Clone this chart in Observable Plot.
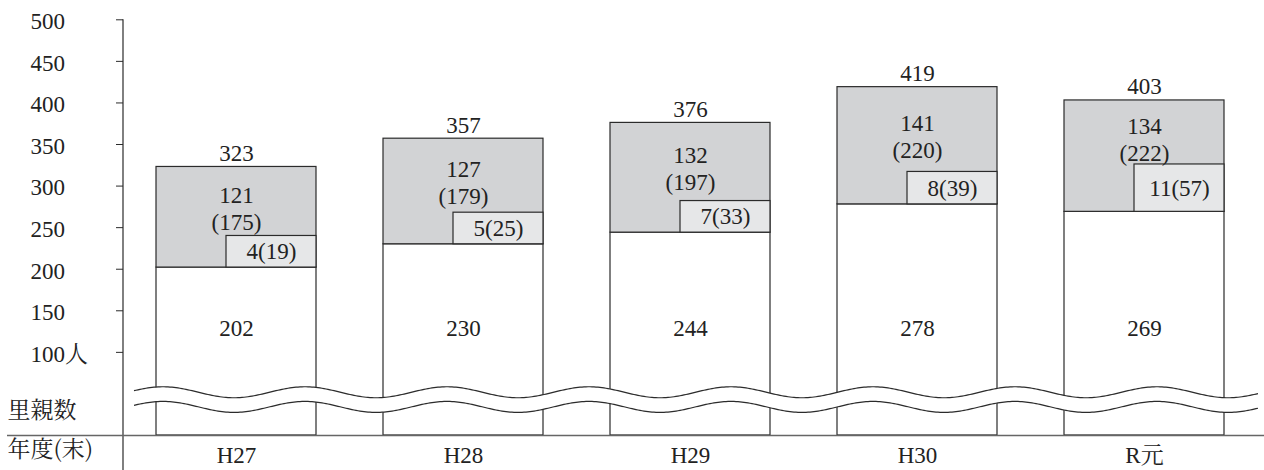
<!DOCTYPE html>
<html><head><meta charset="utf-8">
<script src="https://cdn.jsdelivr.net/npm/d3@7"></script>
<script src="https://cdn.jsdelivr.net/npm/@observablehq/plot@0.6"></script>
<style>body{margin:0;background:#fff;} #chart svg{display:block;}</style>
</head><body><div id="chart"></div>
<script>
// ---- data ----
const years = ["H27", "H28", "H29", "H30", "R元"];
const registered = [202, 230, 244, 278, 269];          // white part
const entrusted = [121, 127, 132, 141, 134];           // grey part
const entrustedChildren = [175, 179, 197, 220, 222];   // (children)
const subgroup = [4, 5, 7, 8, 11];                     // small inset box
const subgroupChildren = [19, 25, 33, 39, 57];
const totals = [323, 357, 376, 419, 403];
const yTicks = [100, 150, 200, 250, 300, 350, 400, 450, 500];
const yTickLabels = ["100人", "150", "200", "250", "300", "350", "400", "450", "500"];
const yLabel = "里親数";
const xLabel = "年度(末)";

// ---- layout constants ----
const insetMin = 38;
const latin = "Liberation Serif, Noto Serif CJK JP, serif";
const cjk = "Noto Serif CJK JP, Liberation Serif, serif";
const ink = "#2b2b2b";
const fs = 23;

const rows = years.map((year, i) => ({
  year,
  registered: registered[i],
  entrusted: entrusted[i],
  entrustedChildren: entrustedChildren[i],
  subgroup: subgroup[i],
  subgroupChildren: subgroupChildren[i],
  total: totals[i],
  insetTop: registered[i] + Math.max(subgroupChildren[i], insetMin)
}));

function decorations(index, scales, values, dims) {
  const g = d3.create("svg:g");
  const x0 = dims.marginLeft + 11, x1 = dims.width - 6;
  const period = 142, amp = 5.5, phase = 163;
  const xs = d3.range(x0, x1 + 0.5, 2);
  const wave = c => xs.map(x => [x, c - amp * Math.cos(2 * Math.PI * (x - phase) / period)]);
  const up = wave(scales.y(51.4));
  const lo = wave(scales.y(33.8));
  const line = d3.line();
  g.append("path").attr("d", line(up.concat(lo.slice().reverse())) + "Z").attr("fill", "white");
  g.append("path").attr("d", line(up)).attr("fill", "none").attr("stroke", ink).attr("stroke-width", 1.2);
  g.append("path").attr("d", line(lo)).attr("fill", "none").attr("stroke", ink).attr("stroke-width", 1.2);
  g.append("line")
    .attr("x1", dims.marginLeft).attr("x2", dims.marginLeft)
    .attr("y1", dims.marginTop).attr("y2", dims.height)
    .attr("stroke", ink).attr("stroke-width", 1.2);
  return g.node();
}

const T = {fontFamily: latin, fontSize: fs, fill: "#222"};
const J = {fontFamily: cjk, fontSize: 23, fill: "#222"};

const chart = Plot.plot({
  width: 1264,
  height: 470,
  marginLeft: 123,
  marginRight: 7,
  marginTop: 19.3,
  marginBottom: 35,
  style: {fontFamily: latin, fontSize: fs + "px", background: "white"},
  x: {domain: years, paddingInner: 0.295, paddingOuter: 0.145, label: null},
  y: {domain: [0, 500], label: null},
  marks: [
    Plot.barY(rows, {x: "year", y1: d => 0, y2: "registered", fill: "white", stroke: ink, strokeWidth: 1.2}),
    Plot.barY(rows, {x: "year", y1: "registered", y2: "total", fill: "#d2d3d5", stroke: ink, strokeWidth: 1.2}),
    Plot.barY(rows, {x: "year", y1: "registered", y2: "insetTop", insetLeft: 70, fill: "#e6e7e8", stroke: ink, strokeWidth: 1.2}),
    decorations,
    Plot.ruleY([0], {insetLeft: -116, insetRight: -7, stroke: "#666", strokeWidth: 1.6}),
    Plot.axisY({ticks: yTicks, tickSize: 7, tickFormat: () => "", label: null, stroke: ink}),
    Plot.text(yTicks, {...T, y: d => d, text: (d, i) => yTickLabels[i], frameAnchor: "left", dx: -93, dy: 2, textAnchor: "start"}),
    Plot.axisX({...T, tickSize: 0, tickPadding: 11, label: null}),
    Plot.text(rows, {...T, x: "year", y: "total", text: d => String(d.total), dy: -6, lineAnchor: "bottom"}),
    Plot.text(rows, {...T, x: "year", y: d => (d.insetTop + d.total) / 2, text: d => `${d.entrusted}\n(${d.entrustedChildren})`, lineHeight: 1.18, dy: 6}),
    Plot.text(rows, {...T, x: "year", y: d => d.registered + (d.insetTop - d.registered) / 2, text: d => `${d.subgroup}(${d.subgroupChildren})`, dx: 35}),
    Plot.text(rows, {...T, x: "year", text: d => String(d.registered), frameAnchor: "bottom", dy: -100}),
    Plot.text([yLabel], {...J, text: d => d, frameAnchor: "bottom-left", dx: -116, dy: -18, textAnchor: "start"}),
    Plot.text([xLabel], {...J, text: d => d, frameAnchor: "bottom-left", dx: -116, dy: 21.7, textAnchor: "start"})
  ]
});
document.getElementById("chart").appendChild(chart);
</script>
</body></html>
